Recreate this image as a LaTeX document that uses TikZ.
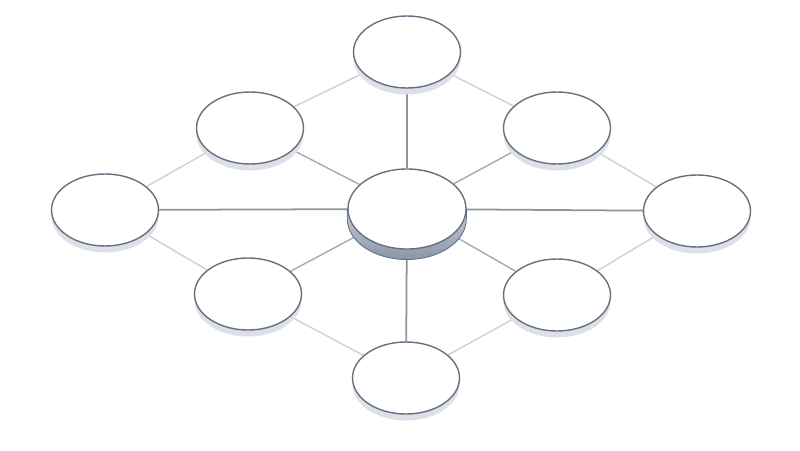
\documentclass[tikz,border=0pt]{standalone}
\usepackage{tikz}
\usetikzlibrary{shapes.geometric}
\usetikzlibrary{backgrounds}
\usetikzlibrary{calc}

\definecolor{rimcol}{HTML}{66717F}
\definecolor{hubline}{HTML}{8C96A3}
\definecolor{spokeline}{HTML}{A6AAB0}
\definecolor{ringline}{HTML}{D0D0D0}
\definecolor{basecol}{HTML}{DDE1E7}
\definecolor{hubtop}{HTML}{C8CFD8}
\definecolor{hubbase}{HTML}{8A95A5}

\tikzset{
    disc/.style={ellipse, draw=rimcol, line width=0.8pt, fill=white,
        minimum width=2.14cm, minimum height=1.44cm, inner sep=0pt},
    hub/.style={disc, minimum width=2.36cm, minimum height=1.6cm},
}

\begin{document}
\begin{tikzpicture}
        \useasboundingbox (0,0) rectangle (16,9);
        % Hub
        \node[hub] (c) at (8.14,4.82) {};
        % Outer discs
        \foreach \name/\x/\y in {n/8.14/7.96, ne/11.14/6.44, e/13.94/4.78, se/11.14/3.10,
                                 s/8.12/1.44, sw/4.96/3.12, w/2.10/4.80, nw/5.00/6.44} {
            \node[disc] (\name) at (\x,\y) {};
        }
        \begin{scope}[on background layer]
            % Ring
            \foreach \a/\b in {n/ne, ne/e, e/se, se/s, s/sw, sw/w, w/nw, nw/n}
                \draw[ringline, line width=0.8pt] (\a) -- (\b);
            % Spokes to the diagonal discs
            \foreach \a in {ne, se, sw, nw}
                \draw[spokeline, line width=0.8pt] (c) -- (\a);
            % Spokes to the axis discs
            \foreach \a in {n, e, s, w}
                \draw[hubline, line width=1pt] (c) -- (\a);
            % Disc bases
            \foreach \name in {n, ne, e, se, s, sw, w, nw}
                \fill[basecol] ($(\name.center)+(0,-0.13)$) ellipse[x radius=1.07, y radius=0.72];
            % Hub base
            \shade[top color=hubtop, bottom color=hubbase, draw=rimcol, line width=0.5pt]
                (c.west) -- ++(0,-0.2) arc[start angle=180, end angle=360, x radius=1.19, y radius=0.81]
                -- (c.east) -- cycle;
        \end{scope}
\end{tikzpicture}
\end{document}
